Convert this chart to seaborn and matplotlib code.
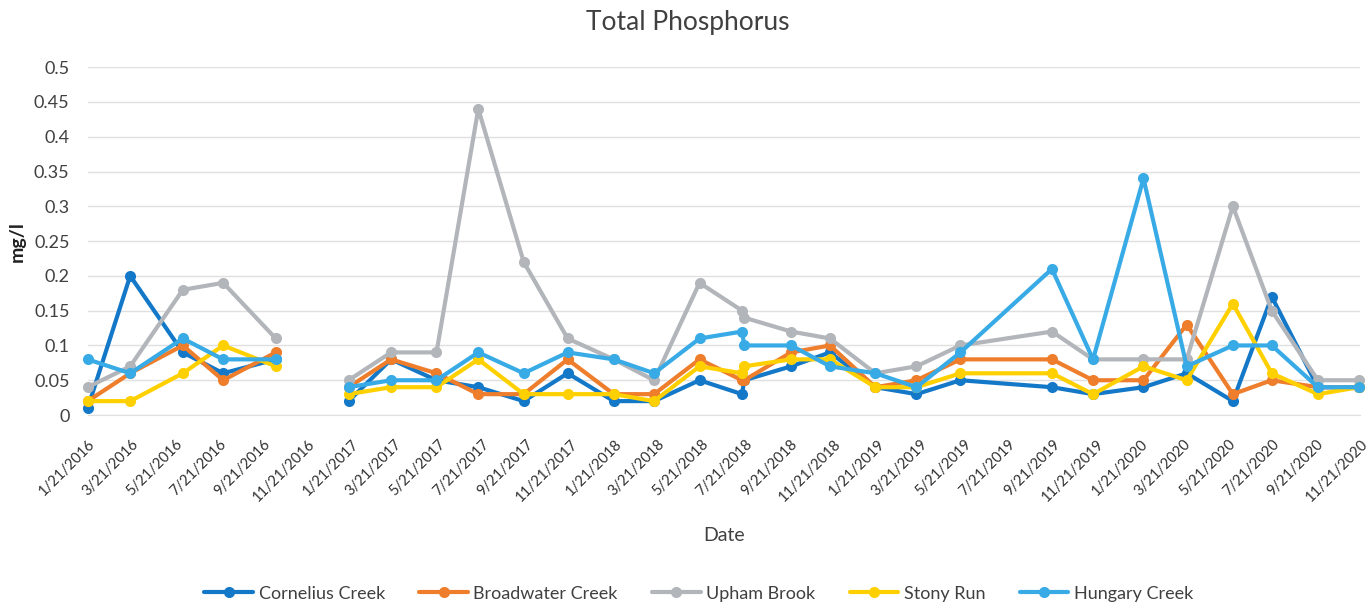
import matplotlib
matplotlib.use("Agg")
import matplotlib.pyplot as plt
import matplotlib.transforms as mtrans
from matplotlib.lines import Line2D
import seaborn as sns
import pandas as pd

# sample dates (two samples in July 2018)
dates = ["2016-01-21", "2016-03-20", "2016-06-01", "2016-07-27", "2016-10-08",
         "2017-01-17", "2017-03-17", "2017-05-19", "2017-07-16", "2017-09-17", "2017-11-17",
         "2018-01-20", "2018-03-17", "2018-05-19", "2018-07-17", "2018-07-20", "2018-09-23", "2018-11-16",
         "2019-01-18", "2019-03-16", "2019-05-16", "2019-09-20", "2019-11-16",
         "2020-01-25", "2020-03-25", "2020-05-28", "2020-07-21", "2020-09-23", "2020-11-19"]

cornelius = [0.01, 0.20, 0.09, 0.06, 0.08,
             0.02, 0.08, 0.05, 0.04, 0.02, 0.06,
             0.02, 0.02, 0.05, 0.03, 0.05, 0.07, 0.09,
             0.04, 0.03, 0.05, 0.04, 0.03,
             0.04, 0.06, 0.02, 0.17, 0.04, 0.04]
broadwater = [0.02, 0.06, 0.10, 0.05, 0.09,
              0.04, 0.08, 0.06, 0.03, 0.03, 0.08,
              0.03, 0.03, 0.08, 0.05, 0.05, 0.09, 0.10,
              0.04, 0.05, 0.08, 0.08, 0.05,
              0.05, 0.13, 0.03, 0.05, 0.04, 0.04]
upham = [0.04, 0.07, 0.18, 0.19, 0.11,
         0.05, 0.09, 0.09, 0.44, 0.22, 0.11,
         0.08, 0.05, 0.19, 0.15, 0.14, 0.12, 0.11,
         0.06, 0.07, 0.10, 0.12, 0.08,
         0.08, 0.08, 0.30, 0.15, 0.05, 0.05]
stony = [0.02, 0.02, 0.06, 0.10, 0.07,
         0.03, 0.04, 0.04, 0.08, 0.03, 0.03,
         0.03, 0.02, 0.07, 0.06, 0.07, 0.08, 0.08,
         0.04, 0.04, 0.06, 0.06, 0.03,
         0.07, 0.05, 0.16, 0.06, 0.03, 0.04]
hungary = [0.08, 0.06, 0.11, 0.08, 0.08,
           0.04, 0.05, 0.05, 0.09, 0.06, 0.09,
           0.08, 0.06, 0.11, 0.12, 0.10, 0.10, 0.07,
           0.06, 0.04, 0.09, 0.21, 0.08,
           0.34, 0.07, 0.10, 0.10, 0.04, 0.04]

sites = ["Cornelius Creek", "Broadwater Creek", "Upham Brook", "Stony Run", "Hungary Creek"]
colors = ["#1478C8", "#EE7D2C", "#B2B5BA", "#FFD000", "#38ABE6"]
# no samples between Oct 2016 and Jan 2017 -> break in the lines
gap_date = "2016-12-01"

frames = []
for name, vals in zip(sites, [cornelius, broadwater, upham, stony, hungary]):
    d = pd.DataFrame({"Date": pd.to_datetime(dates), "value": vals, "site": name})
    d["segment"] = (d["Date"] > pd.Timestamp(gap_date)).astype(int)
    frames.append(d)
df = pd.concat(frames, ignore_index=True)

sns.set_style("white")
plt.rcParams["font.family"] = ["Lato", "DejaVu Sans"]
txt = "#404040"

fig = plt.figure(figsize=(13.7, 6.05), dpi=100)
ax = fig.add_axes([0.064, 0.314, 0.929, 0.575])

sns.lineplot(data=df, x="Date", y="value", hue="site", units="segment", estimator=None,
             palette=dict(zip(sites, colors)), hue_order=sites, marker="o", markersize=8,
             markeredgewidth=0, linewidth=3, legend=False, ax=ax, clip_on=False)

ticks = pd.date_range("2016-01-01", "2020-11-01", freq="2MS") + pd.Timedelta(days=20)
ax.set_xticks(ticks)
ax.set_xticklabels([f"{t.month}/{t.day}/{t.year}" for t in ticks], rotation=45,
                   ha="right", rotation_mode="anchor", fontsize=10.5, color="#303030")
shift = mtrans.ScaledTranslation(4 / 100, 0, fig.dpi_scale_trans)
for lab in ax.get_xticklabels():
    lab.set_transform(lab.get_transform() + shift)
ax.set_xlim(pd.Timestamp("2016-01-21"), pd.Timestamp("2020-11-21"))

ax.set_ylim(0, 0.5)
yt = [round(i * 0.05, 2) for i in range(11)]
ax.set_yticks(yt)
ax.set_yticklabels(["0" if v == 0 else f"{v:g}" for v in yt], fontsize=13, color=txt)
ax.tick_params(axis="both", length=0)
ax.tick_params(axis="y", pad=13)
ax.tick_params(axis="x", pad=16)
ax.yaxis.grid(True, color="#E0E0E0", linewidth=1)
ax.set_axisbelow(True)
for s in ["top", "right", "left"]:
    ax.spines[s].set_visible(False)
ax.spines["bottom"].set_color("#E0E0E0")

ax.set_xlabel("Date", fontsize=14, color=txt, labelpad=16)
ax.set_ylabel("mg/l", fontsize=14, color="#202020", fontweight="bold", labelpad=6)
fig.text(0.502, 0.962, "Total Phosphorus", ha="center", va="center", fontsize=19, color=txt)

handles = [Line2D([], [], color=c, linewidth=3, marker="o", markersize=8, markeredgewidth=0)
           for c in colors]
fig.legend(handles, sites, loc="center", bbox_to_anchor=(0.51, 0.019), ncol=5, frameon=False,
           fontsize=13, handlelength=2.7, handletextpad=0.3, columnspacing=1.9,
           labelcolor=txt)

fig.savefig("out.png", dpi=100)
